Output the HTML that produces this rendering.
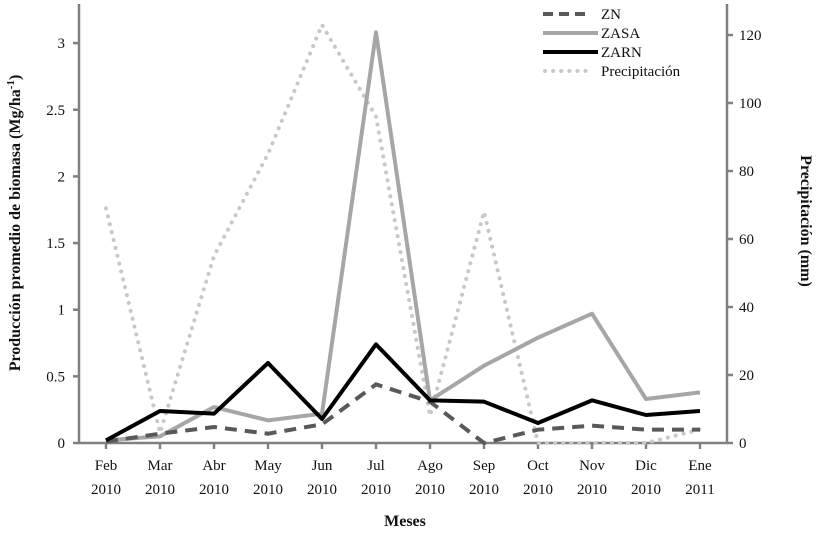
<!DOCTYPE html>
<html><head><meta charset="utf-8"><style>
body{margin:0;background:#fff}
svg text{font-family:"Liberation Serif",serif;fill:#111}
</style></head><body>
<svg id="c" width="816" height="533" viewBox="0 0 816 533">
<g id="axes"></g><g id="series"></g>
<g>
<line x1="543" y1="14" x2="591" y2="14" stroke="#595959" stroke-width="4" stroke-dasharray="10,6"/>
<text x="601" y="19" font-size="15">ZN</text>
<line x1="543" y1="33" x2="598" y2="33" stroke="#a6a6a6" stroke-width="4"/>
<text x="601" y="38" font-size="15">ZASA</text>
<line x1="543" y1="52" x2="598" y2="52" stroke="#000" stroke-width="4"/>
<text x="601" y="57" font-size="15">ZARN</text>
<line x1="545" y1="71" x2="591" y2="71" stroke="#c8c8c8" stroke-width="4" stroke-dasharray="0.1,8" stroke-linecap="round"/>
<text x="601" y="76" font-size="15">Precipitación</text>
</g>
<text transform="translate(20,223) rotate(-90)" text-anchor="middle" font-size="16" font-weight="bold">Producción promedio de biomasa  (Mg/ha<tspan font-size="11" dy="-6">-1</tspan><tspan dy="6">)</tspan></text>
<text transform="translate(801,221) rotate(90)" text-anchor="middle" font-size="16" font-weight="bold">Precipitación (mm)</text>
<text x="405" y="526" text-anchor="middle" font-size="16" font-weight="bold">Meses</text>
</svg>
<script>
const months=["Feb","Mar","Abr","May","Jun","Jul","Ago","Sep","Oct","Nov","Dic","Ene"];
const years=["2010","2010","2010","2010","2010","2010","2010","2010","2010","2010","2010","2011"];
const zn=[0.01,0.07,0.12,0.07,0.14,0.44,0.31,0.0,0.1,0.13,0.1,0.1];
const zasa=[0.02,0.05,0.27,0.17,0.22,3.08,0.32,0.58,0.79,0.97,0.33,0.38];
const zarn=[0.02,0.24,0.22,0.6,0.18,0.74,0.32,0.31,0.15,0.32,0.21,0.24];
const precip=[69,3,55,85,123,96,8,68,0,0,0,4];
const leftTicks=[0,0.5,1,1.5,2,2.5,3];
const rightTicks=[0,20,40,60,80,100,120];
const NS="http://www.w3.org/2000/svg";
const X0=79,X1=727,Y0=443;
const xs=i=>X0+(X1-X0)/months.length*(i+0.5);
const yl=v=>Y0-v*133.3;
const yr=v=>Y0-v*3.4;
function mk(t,a,p){const e=document.createElementNS(NS,t);for(const k in a)e.setAttribute(k,a[k]);p.appendChild(e);return e;}
const ax=document.getElementById('axes'),se=document.getElementById('series');
const st={stroke:"#808080","stroke-width":2.5};
let l=mk('line',Object.assign({x1:X0,y1:4,x2:X0,y2:Y0},st),ax);


l=mk('line',Object.assign({x1:X1,y1:4,x2:X1,y2:Y0},st),ax);


l=mk('line',Object.assign({x1:X0-1,y1:Y0,x2:X1+1,y2:Y0},st),ax);


leftTicks.forEach(v=>{mk('line',Object.assign({x1:X0-6,x2:X0,y1:yl(v),y2:yl(v)},st),ax);
const t=mk('text',{x:X0-14,y:yl(v)+5,"text-anchor":"end","font-size":15},ax);t.textContent=v;

});
rightTicks.forEach(v=>{mk('line',Object.assign({x1:X1,x2:X1+6,y1:yr(v),y2:yr(v)},st),ax);
const t=mk('text',{x:X1+12,y:yr(v)+5,"font-size":15},ax);t.textContent=v;

});
months.forEach((m,i)=>{mk('line',Object.assign({x1:xs(i),x2:xs(i),y1:Y0,y2:Y0+6},st),ax);
const t=mk('text',{x:xs(i),y:470,"text-anchor":"middle","font-size":15},ax);t.textContent=m;


const t2=mk('text',{x:xs(i),y:494,"text-anchor":"middle","font-size":15},ax);t2.textContent=years[i];

});
function line(d,f,a,name){const p=mk('polyline',Object.assign({fill:"none",points:d.map((v,i)=>xs(i)+","+f(v)).join(" ")},a),se);

}
line(precip,yr,{stroke:"#c8c8c8","stroke-width":4,"stroke-dasharray":"0.1,8","stroke-linecap":"round"},'precipitation-line');
line(zasa,yl,{stroke:"#a6a6a6","stroke-width":4,"stroke-linejoin":"round"},'zasa-line');
line(zn,yl,{stroke:"#595959","stroke-width":4,"stroke-dasharray":"12,8"},'zn-line');
line(zarn,yl,{stroke:"#000","stroke-width":4,"stroke-linejoin":"round"},'zarn-line');
</script>
</body></html>
